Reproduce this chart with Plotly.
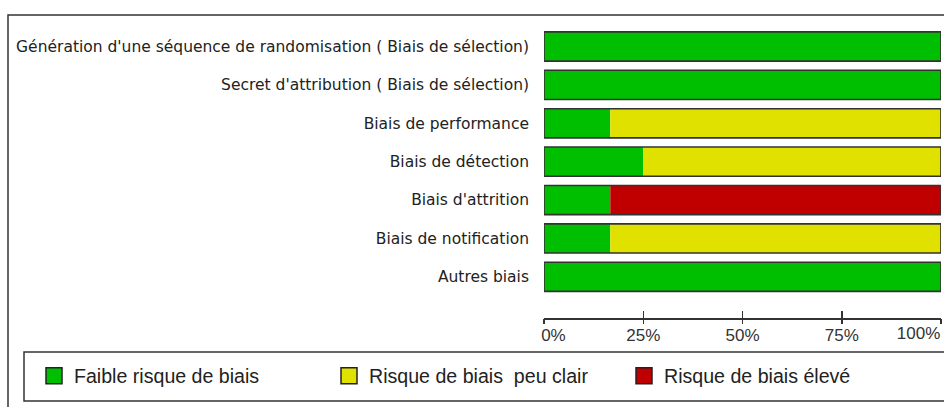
import plotly.graph_objects as go

categories = [
    "Génération d'une séquence de randomisation ( Biais de sélection)",
    "Secret d'attribution ( Biais de sélection)",
    "Biais de performance",
    "Biais de détection",
    "Biais d'attrition",
    "Biais de notification",
    "Autres biais",
]
faible = [100, 100, 16.7, 25, 16.7, 16.7, 100]
peu_clair = [0, 0, 83.3, 75, 0, 83.3, 0]
eleve = [0, 0, 0, 0, 83.3, 0, 0]

series_names = ["Faible risque de biais", "Risque de biais  peu clair", "Risque de biais élevé"]
series_colors = ["#00BF00", "#E1E100", "#C00000"]

tick_vals = [0, 25, 50, 75, 100]
tick_text = ["0%", "25%", "50%", "75%", "100%"]

W, H = 944, 407
def px(x):
    return x / W
def py(y):
    return 1 - y / H

# tick label layout: first label starts at its tick, last one ends at its tick
labels_mid = ["\u00a0\u00a0\u00a0\u00a0" + tick_text[0]] + tick_text[1:-1] + [""]
labels_end = [""] * (len(tick_text) - 1) + [tick_text[-1]]

fig = go.Figure()

bases = [0] * len(categories)
for name, vals, col in zip(series_names, [faible, peu_clair, eleve], series_colors):
    fig.add_trace(go.Bar(
        y=categories, x=vals, base=list(bases), orientation="h",
        marker=dict(color=col, line=dict(width=0)),
        width=0.76, showlegend=False, name=name,
        hoverinfo="skip",
    ))
    bases = [b + v for b, v in zip(bases, vals)]

# outline of each full bar
fig.add_trace(go.Bar(
    y=categories, x=bases, base=[0] * len(categories), orientation="h",
    marker=dict(color="rgba(0,0,0,0)", line=dict(width=1.6, color="#333333")),
    width=0.76, showlegend=False, hoverinfo="skip",
))

# legend entries
for name, col in zip(series_names, series_colors):
    fig.add_trace(go.Scatter(
        x=[None], y=[None], mode="markers", name=name,
        marker=dict(symbol="square", size=16, color=col, line=dict(width=1.5, color="#222222")),
        showlegend=True,
    ))

tickfont = dict(family="Liberation Sans, Arial", size=17, color="#333333")

fig.update_layout(
    width=W, height=H,
    margin=dict(l=0, r=0, t=0, b=0, pad=0, autoexpand=False),
    paper_bgcolor="white", plot_bgcolor="white",
    barmode="overlay",
    xaxis=dict(domain=[px(544), px(941)], range=[0, 100], visible=False, fixedrange=True,
               automargin=False),
    xaxis2=dict(
        domain=[px(536), px(941)], range=[0, 100], anchor="free", overlaying="x",
        position=py(318), side="bottom", automargin=False,
        showline=True, linecolor="#333333", linewidth=1.5,
        ticks="inside", ticklen=7, tickwidth=1.5, tickcolor="#333333",
        tickvals=tick_vals, ticktext=labels_mid, ticklabelstandoff=1,
        tickfont=tickfont,
        showgrid=False, zeroline=False, fixedrange=True,
    ),
    xaxis3=dict(
        domain=[px(536), px(941)], range=[0, 100], anchor="free", overlaying="x",
        position=py(318), side="bottom", automargin=False,
        showline=False, ticks="outside", ticklen=5, tickwidth=1.5, tickcolor="#333333",
        tickvals=tick_vals, ticktext=labels_end, ticklabelposition="outside left",
        ticklabelstandoff=0, tickfont=tickfont,
        showgrid=False, zeroline=False, fixedrange=True,
    ),
    yaxis=dict(
        domain=[py(296), py(27.3)], autorange="reversed", automargin=False,
        showline=False, showgrid=False, zeroline=False, ticks="",
        ticklabelstandoff=14,
        tickfont=dict(family="DejaVu Sans", size=15.5, color="#222222"),
        fixedrange=True,
    ),
    legend=dict(
        orientation="h", x=px(34), xanchor="left", y=py(376), yanchor="middle",
        font=dict(family="Liberation Sans, Arial", size=19.6, color="#222222"),
        bgcolor="rgba(0,0,0,0)", borderwidth=0, entrywidth=250, entrywidthmode="pixels",
        itemclick=False, itemdoubleclick=False,
    ),
    shapes=[
        dict(type="rect", xref="paper", yref="paper", x0=px(8), x1=1.05, y0=-0.05, y1=py(15),
             line=dict(color="#333333", width=1.5), fillcolor="rgba(0,0,0,0)", layer="below"),
        dict(type="rect", xref="paper", yref="paper", x0=px(24), x1=1.05, y0=py(401), y1=py(352),
             line=dict(color="#333333", width=1.5), fillcolor="rgba(0,0,0,0)", layer="below"),
    ],
)

fig.add_trace(go.Scatter(x=[None], y=[None], xaxis="x2", showlegend=False, hoverinfo="skip"))
fig.add_trace(go.Scatter(x=[None], y=[None], xaxis="x3", showlegend=False, hoverinfo="skip"))

fig.write_html(
    "out.html",
    config={"displayModeBar": False, "staticPlot": True},
    post_script="document.body.style.margin='0';document.body.style.overflow='hidden';",
)
